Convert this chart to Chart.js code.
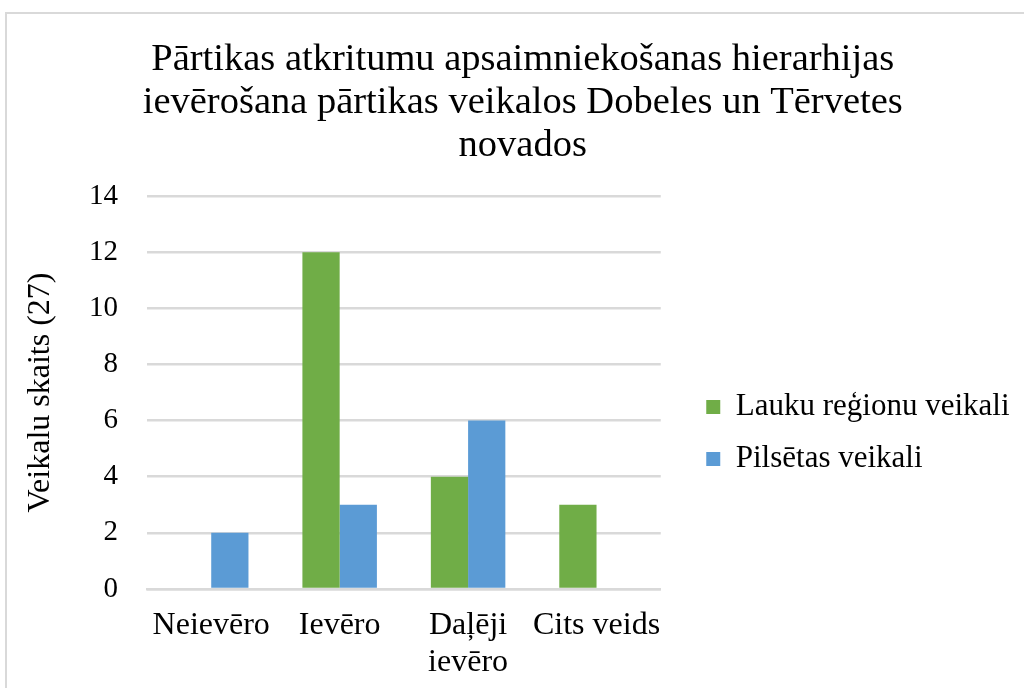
<!DOCTYPE html>
<html>
<head>
<meta charset="utf-8">
<script src="https://cdn.jsdelivr.net/npm/chart.js@4"></script>
<style>
  html, body { margin: 0; padding: 0; background: #fff; overflow: hidden; }
  #frame { position: absolute; left: 5px; top: 12px; width: 1100px; height: 800px; border: 2px solid #d9d9d9; box-sizing: border-box; }
  #wrap { position: absolute; left: 0; top: 0; width: 1024px; height: 688px; }
</style>
</head>
<body>
<div id="frame"></div>
<div id="wrap"><canvas id="c" width="1024" height="688"></canvas></div>
<script>
const titleLines = ["Pārtikas atkritumu apsaimniekošanas hierarhijas", "ievērošana pārtikas veikalos Dobeles un Tērvetes", "novados"];
const categories = ["Neievēro", "Ievēro", ["Daļēji", "ievēro"], "Cits veids"];
const seriesNames = ["Lauku reģionu veikali", "Pilsētas veikali"];
const laukuValues = [0, 12, 4, 3];
const pilsetasValues = [2, 3, 6, 0];
const yTicks = [0, 2, 4, 6, 8, 10, 12, 14];
const yAxisTitle = "Veikalu skaits (27)";

const serif = "'Liberation Serif', 'Times New Roman', serif";

new Chart(document.getElementById('c'), {
  type: 'bar',
  data: {
    labels: categories,
    datasets: [
      { label: seriesNames[0], data: laukuValues, backgroundColor: '#70ad47', categoryPercentage: 0.58, barPercentage: 1.0 },
      { label: seriesNames[1], data: pilsetasValues, backgroundColor: '#5b9bd5', categoryPercentage: 0.58, barPercentage: 1.0 }
    ]
  },
  options: {
    responsive: false,
    animation: false,
    layout: { padding: { left: 26, right: 4.5, top: 38.5, bottom: 0 } },
    plugins: {
      title: {
        display: true,
        text: titleLines,
        color: '#000',
        font: { family: serif, size: 38.5, weight: 'normal', lineHeight: 1.117 },
        padding: { top: 0, bottom: 28.5 }
      },
      legend: {
        position: 'right',
        align: 'start',
        maxWidth: 400,
        title: { display: true, text: ' ', padding: { top: 322, bottom: 0 }, font: { size: 10, lineHeight: 1 } },
        labels: {
          color: '#000',
          boxWidth: 14,
          boxHeight: 14,
          padding: 21,
          font: { family: serif, size: 31 }
        }
      },
      tooltip: { enabled: false }
    },
    scales: {
      x: {
        grid: { display: false, drawTicks: false },
        border: { display: true, color: '#d9d9d9', width: 2.5 },
        ticks: { color: '#000', font: { family: serif, size: 32, lineHeight: 1.156 }, maxRotation: 0, autoSkip: false, padding: 18.5 },
        afterFit: (scale) => { scale.height = 99; }
      },
      y: {
        min: yTicks[0], max: yTicks[yTicks.length - 1],
        afterBuildTicks: (scale) => { scale.ticks = yTicks.map(v => ({ value: v })); },
        ticks: { color: '#000', font: { family: serif, size: 29 }, padding: 29 },
        grid: { color: '#d9d9d9', lineWidth: 2.5, drawTicks: false },
        border: { display: false },
        title: { display: true, text: yAxisTitle, color: '#000', font: { family: serif, size: 32, lineHeight: 0.9 }, padding: { top: 0, bottom: 0 } },
        afterFit: (scale) => { scale.width = 121; }
      },
      spacer: {
        type: 'linear',
        position: 'right',
        display: true,
        grid: { display: false, drawTicks: false },
        border: { display: false },
        ticks: { display: false },
        afterFit: (scale) => { scale.width = 24.5; }
      }
    }
  }
});
</script>
</body>
</html>
